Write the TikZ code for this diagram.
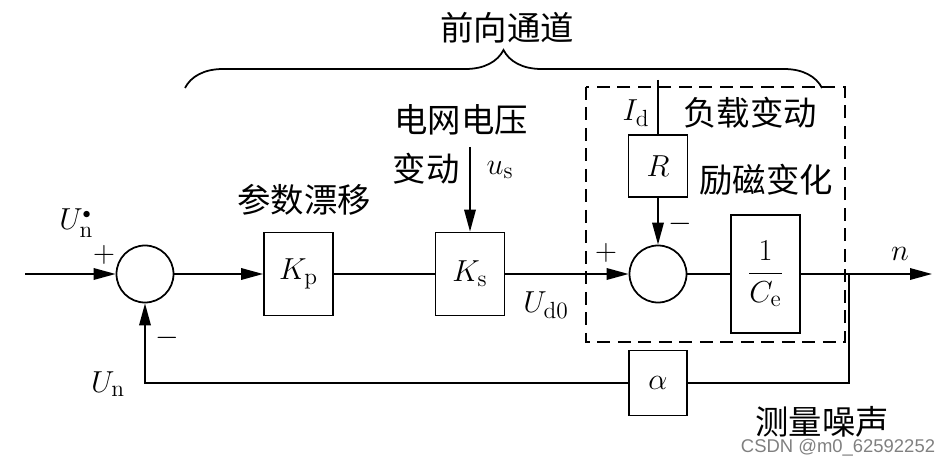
\documentclass[tikz,border=0pt]{standalone}
\usepackage{amsmath}
\usepackage{fontspec}
\newfontfamily\cjk{Noto Sans CJK SC}
\setsansfont{Liberation Sans}
\usetikzlibrary{positioning,arrows.meta,decorations.pathreplacing}

\begin{document}
\begin{tikzpicture}[->,>={Triangle[length=0.44cm,width=0.23cm]},line width=1pt,node distance=2cm,
    font=\fontsize{19}{23}\selectfont,
    block node/.style={draw,rectangle,minimum width=1.38cm,minimum height=1.66cm,inner sep=0pt},
    sum node/.style={draw,circle,minimum size=1.14cm,inner sep=0pt},
    cn node/.style={font=\cjk\fontsize{19}{19}\selectfont,inner sep=0pt},
    label node/.style={inner sep=0pt},
    sign node/.style={inner sep=0pt,font=\fontsize{16}{16}\selectfont}]
            \useasboundingbox (0,-3.84) rectangle (18.82,5.48);

            % main path
            \coordinate (in) at (0.5,0);
            \node[sum node] (s1) at (2.9,0) {};
            \node[block node] (kp) [right of = s1, node distance=3.07cm] {$K_{\mathrm p}$};
            \node[block node] (ks) [right of = kp, node distance=3.43cm] {$K_{\mathrm s}$};
            \node[sum node] (s2) [right of = ks, node distance=3.76cm] {};
            \node[block node,minimum height=2.36cm] (ce) [right of = s2, node distance=2.15cm] {$\dfrac{1}{C_{\mathrm e}}$};
            \node[block node,minimum width=1.18cm,minimum height=1.24cm] (r) [above of = s2, node distance=2.16cm] {$R$};
            \node[block node,minimum width=1.16cm,minimum height=1.3cm] (a) [below of = s2, node distance=2.18cm] {$\alpha$};
            \coordinate[right of = ce, node distance=1.67cm] (br);
            \coordinate[right of = ce, node distance=3.33cm] (out);
            \coordinate[above of = ks, node distance=2.54cm] (us);
            \coordinate[above of = r, node distance=1.72cm] (id);

            \path
                (in) edge (s1)
                (s1) edge (kp)
                (kp) edge[-] (ks)
                (ks) edge (s2)
                (s2) edge[-] (ce)
                (ce) edge (out)
                (us) edge (ks)
                (id) edge[-] (r)
                (r) edge (s2)
                ;
            % feedback
            \draw[-] (br) |- (a);
            \draw (a) -| (s1);

            % dashed box and brace
            \draw[-,dash pattern=on 0.26cm off 0.15cm] (11.72,3.74) rectangle (16.90,-1.36);
            \draw[-,decorate,decoration={brace,amplitude=0.76cm}] (3.70,3.72) -- (16.44,3.72);

            % labels
            \node[cn node] (t0) at (10.14,4.92) {前向通道};
            \node[label node,anchor=south east] (l1) at (1.88,0.72) {$U_{\mathrm n}^{\scriptscriptstyle\bullet}$};
            \node[sign node] (l2) at (2.08,0.38) {$+$};
            \node[sign node] (l3) at (3.34,-1.28) {$-$};
            \node[label node] (l4) at (2.16,-2.20) {$U_{\mathrm n}$};
            \node[cn node] (t1) at (6.08,1.48) {参数漂移};
            \node[cn node] (t2) at (9.22,3.08) {电网电压};
            \node[cn node] (t3) at (8.52,2.10) {变动};
            \node[label node] (l5) at (10.0,2.08) {$u_{\mathrm s}$};
            \node[label node] (l6) at (10.92,-0.62) {$U_{\mathrm{d0}}$};
            \node[sign node] (l7) at (12.12,0.42) {$+$};
            \node[sign node] (l8) at (13.60,1.00) {$-$};
            \node[label node] (l9) at (12.72,3.22) {$I_{\mathrm d}$};
            \node[cn node] (t4) at (15.0,3.22) {负载变动};
            \node[cn node] (t5) at (15.32,1.88) {励磁变化};
            \node[label node] (l10) at (18.0,0.40) {$n$};
            \node[cn node] (t6) at (16.44,-2.96) {测量噪声};
            \node[label node,font=\sffamily\fontsize{10.5}{12}\selectfont,text=gray] (wm) at (16.76,-3.48) {CSDN @m0\_62592252};
        \end{tikzpicture}
\end{document}
